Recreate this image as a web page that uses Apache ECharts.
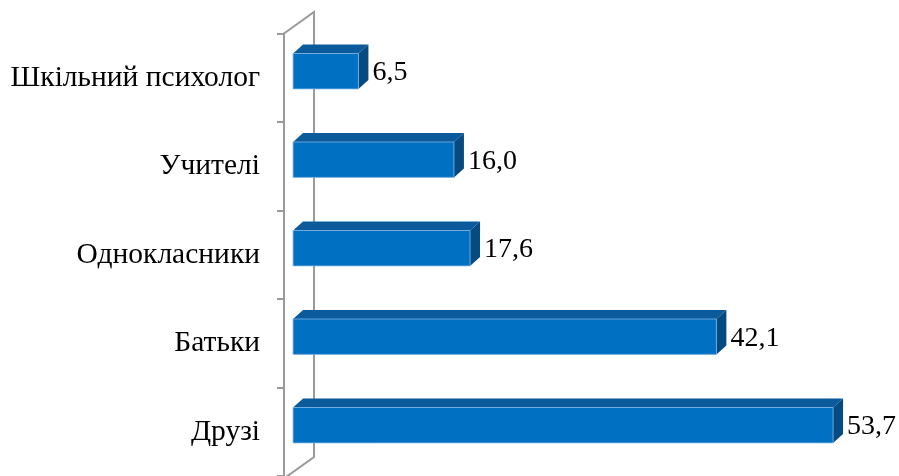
<!DOCTYPE html>
<html>
<head>
<meta charset="utf-8">
<script src="https://cdn.jsdelivr.net/npm/echarts@6/dist/echarts.min.js"></script>
<style>
html,body{margin:0;padding:0;background:#fff;}
#c{width:899px;height:476px;}
</style>
</head>
<body>
<div id="c"></div>
<script>
const categories = ['Шкільний психолог', 'Учителі', 'Однокласники', 'Батьки', 'Друзі'];
const values = [6.5, 16.0, 17.6, 42.1, 53.7];

const FONT = "'Liberation Serif', 'DejaVu Serif', serif";
const WALL = '#9a9a9a';
const DX = 10, DY = 9;
const X_MIN = -0.9;

const chart = echarts.init(document.getElementById('c'), null, {renderer: 'canvas'});

function renderItem(params, api) {
  const v = api.value(0);
  const ci = api.value(1);
  const p0 = api.coord([0, ci]);
  const p1 = api.coord([v, ci]);
  const band = api.size([0, 1])[1];
  const h = band * 0.4;
  const cy = p0[1] - band * 0.074;
  const x0 = p0[0], x1 = p1[0];
  const y0 = cy - h / 2, y1 = cy + h / 2;
  const txt = v.toFixed(1).replace('.', ',');
  return {
    type: 'group',
    children: [
      {type: 'polygon', shape: {points: [[x0, y0], [x0 + DX, y0 - DY], [x1 + DX, y0 - DY], [x1, y0]]},
        style: {fill: '#0a5a9c'}},
      {type: 'polygon', shape: {points: [[x1, y0], [x1 + DX, y0 - DY], [x1 + DX, y1 - DY], [x1, y1]]},
        style: {fill: '#064a82'}},
      {type: 'rect', shape: {x: x0, y: y0, width: x1 - x0, height: h},
        style: {fill: '#0070c2', stroke: '#7fb4e3', lineWidth: 0.8}},
      {type: 'text', x: x1 + DX + 4, y: cy + 1.5,
        style: {text: txt, fill: '#000', fontSize: 28, fontFamily: FONT, verticalAlign: 'middle', align: 'left'}}
    ]
  };
}

const option = {
  animation: false,
  backgroundColor: '#fff',
  grid: {left: 284, top: 33.5, height: 445, right: 2.6},
  xAxis: {type: 'value', min: X_MIN, max: 60, show: false},
  yAxis: {
    type: 'category', data: categories, inverse: true,
    axisLine: {show: true, onZero: false, lineStyle: {color: WALL, width: 2}},
    axisTick: {show: true, length: 7, alignWithLabel: false, lineStyle: {color: WALL, width: 2}},
    axisLabel: {margin: 24, color: '#000', fontSize: 29.5, fontFamily: FONT, padding: [6, 0, 0, 0]},
    splitLine: {show: false}
  },
  series: [{
    type: 'custom',
    renderItem: renderItem,
    encode: {x: 0, y: 1},
    data: values.map((v, i) => [v, i]),
    z: 3
  }]
};
chart.setOption(option);

// 3D side wall frame (front edge, back edge, top and bottom diagonals)
const front = chart.convertToPixel({xAxisIndex: 0}, X_MIN);
const gTop = 33.5, gBot = 33.5 + 445;
const back = front + 30, wdy = 21.5;
chart.setOption({
  graphic: [{
    type: 'polygon', z: 0, silent: true,
    shape: {points: [[front, gTop], [back, gTop - wdy], [back, gBot - wdy], [front, gBot]]},
    style: {stroke: WALL, lineWidth: 2, fill: null}
  }]
});
</script>
</body>
</html>
